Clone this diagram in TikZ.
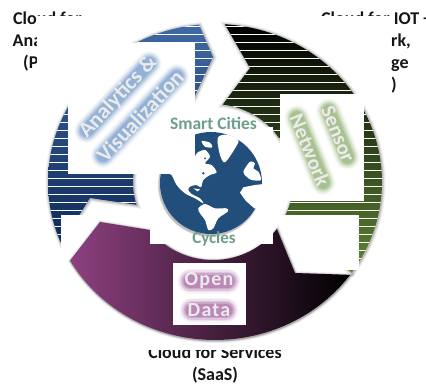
\documentclass[tikz,border=0pt]{standalone}
\usepackage{fontspec}
\setmainfont{Carlito}
\newfontfamily\opfont[LetterSpace=6]{Carlito}
\definecolor{lblack}{HTML}{151515}
\definecolor{cityteal}{HTML}{6E9E8A}
\definecolor{globeblue}{HTML}{224E7B}
\definecolor{glowblue}{HTML}{4F81BD}
\definecolor{glowgreen}{HTML}{6F9A48}
\definecolor{glowpurple}{HTML}{8E3A88}
\definecolor{bluetop}{HTML}{3F69A5}
\definecolor{bluebot}{HTML}{0E2A58}
\definecolor{greenbot}{HTML}{5F8535}
\definecolor{purpleleft}{HTML}{8E4080}
\newcommand{\bluepath}{plot[domain=95.5:203,samples=70] ({215+167*cos(\x)},{182-158*sin(\x)}) -- (90,198) -- plot[domain=197:107,samples=50] ({213+80*cos(\x)},{182-78*sin(\x)}) -- (213,57) -- cycle}
\newcommand{\greenpath}{plot[domain=86.6:-35,samples=70] ({215+167*cos(\x)},{182-158*sin(\x)}) -- plot[domain=-28:83,samples=50] ({213+80*cos(\x)},{182-78*sin(\x)}) -- (250,68) -- cycle}
\newcommand{\purplepath}{plot[domain=-150.2:-36,samples=70] ({215+167*cos(\x)},{182-158*sin(\x)}) -- (295,273) -- plot[domain=-37:-142,samples=50] ({213+80*cos(\x)},{182-78*sin(\x)}) -- (100,222) -- cycle}
\tikzset{
  x=1pt,y=-1pt,
  outer label/.style={font=\fontsize{18}{22}\selectfont\bfseries,text=lblack,inner sep=0pt,anchor=base west},
  centre label/.style={font=\fontsize{17.5}{21}\selectfont\bfseries,text=cityteal,inner sep=0pt,anchor=base},
  glow text/.style={font=\fontsize{22}{26}\selectfont\bfseries,text=white!92!black,inner sep=0pt},
  cover/.style={fill=white,draw=none},
  land/.style={fill=white,draw=none},
}
\begin{document}
\begin{tikzpicture}
\useasboundingbox (0,0) rectangle (426,384);
\fill[white] (0,0) rectangle (426,384);
% outer labels
\node[outer label] (l1) at (13,24) {Cloud for};
\node[outer label] (l2) at (12.5,46) {Ana};
\node[outer label] (l3) at (23,68) {(P};
\node[outer label] (r1) at (321,24) {Cloud for IOT +};
\node[outer label] (r2) at (391,46) {rk,};
\node[outer label] (r3) at (391,68) {ge};
\node[outer label] (r4) at (391,90) {)};
\node[outer label,anchor=base] (b1) at (215,358) {Cloud for Services};
\node[outer label,anchor=base] (b2) at (215,380) {(SaaS)};
\fill[cover] (37,16) rectangle (391,100);
\fill[cover] (130,330) rectangle (300,350);
% shadows
\foreach \w/\o in {6/.06,4/.08,2/.14}{
  \draw[black,line width=\w pt,opacity=\o,shift={(.5,.5)}] \bluepath;
  \draw[black,line width=\w pt,opacity=\o,shift={(.5,.5)}] \greenpath;
}
% arrows with stripes
\shade[top color=bluetop,bottom color=bluebot] \bluepath;
\shade[top color=black,bottom color=greenbot] \greenpath;
\begin{scope}
  \clip \bluepath;
  \foreach \y in {26,34,...,250} \draw[white,line width=.9pt] (30,\y) -- (240,\y);
\end{scope}
\begin{scope}
  \clip \greenpath;
  \foreach \y in {26,34,...,266} \draw[white,line width=.9pt] (210,\y) -- (400,\y);
\end{scope}
% white picture boxes
\fill[cover] (280,94) rectangle (364,201);
\fill[cover] (61,215) rectangle (359,270);
% purple arrow
\foreach \w/\o in {5/.06,3/.1,1.5/.2}{
  \draw[black,line width=\w pt,opacity=\o,shift={(.5,.7)}] \purplepath;
}
\shade[left color=purpleleft,right color=black] \purplepath;
% globe box
\fill[cover] (150,127) rectangle (273,244);
% globe
\fill[gray,opacity=.25] (210,185) circle (52);
\fill[gray,opacity=.35] (210,184.5) circle (51.5);
\fill[globeblue] (211,183) circle (51);
\begin{scope}[shift={(155,130)},x=.3333pt,y=-.3333pt]
  \fill[land] plot[smooth cycle,tension=.5] coordinates {(40,130) (50,135) (65,165) (90,190) (120,205) (145,220) (135,205) (110,192) (100,180) (105,170) (125,165) (138,172) (145,150) (165,135) (185,127) (170,105) (150,100) (165,80) (150,60) (125,70) (110,100) (60,115)};
  \fill[land] plot[smooth cycle,tension=.5] coordinates {(188,24) (215,14) (250,30) (240,55) (210,97) (195,75)};
  \fill[land] plot[smooth cycle,tension=.5] coordinates {(140,33) (165,38) (172,52) (150,50)};
  \fill[land] plot[smooth cycle,tension=.5] coordinates {(130,235) (150,222) (180,235) (215,235) (218,245) (190,265) (175,295) (160,300) (150,270) (135,250)};
  \fill[land] (345,160) -- (300,165) -- (265,172) -- (255,188) -- (272,212) -- (298,235) -- (345,240) -- cycle;
  \fill[land] plot[smooth cycle,tension=.5] coordinates {(265,125) (285,95) (300,100) (295,115) (310,125) (318,150) (290,150) (275,140)};
  \fill[globeblue] (145,130) circle (4);
  \fill[globeblue] (135,60) circle (4);
  \fill[globeblue] (150,85) circle (3);
  \fill[land] (115,175) -- (135,178) -- (128,184) -- cycle;
\end{scope}
\fill[cover] (68,43) rectangle (195,174);
% glows
\foreach \w/\o in {25/.05,22/.1,19/.16,16/.22,13/.28}{
  \begin{scope}[shift={(118,97)},rotate=47]
    \draw[glowblue,line width=\w pt,line cap=round,opacity=\o] (-46,0) -- (46,0);
  \end{scope}
  \begin{scope}[shift={(140,116)},rotate=47]
    \draw[glowblue,line width=\w pt,line cap=round,opacity=\o] (-54,0) -- (54,0);
  \end{scope}
  \begin{scope}[shift={(338,134)},rotate=-68]
    \draw[glowgreen,line width=\w pt,line cap=round,opacity=\o] (-25,0) -- (25,0);
  \end{scope}
  \begin{scope}[shift={(310,150)},rotate=-68]
    \draw[glowgreen,line width=\w pt,line cap=round,opacity=\o] (-35,0) -- (35,0);
  \end{scope}
}
\fill[cover] (173,263) rectangle (246,325);
\foreach \w/\o in {25/.06,22/.1,19/.16,16/.22,13/.28}{
  \draw[glowpurple,line width=\w pt,line cap=round,opacity=\o] (190,281) -- (228,281);
  \draw[glowpurple,line width=\w pt,line cap=round,opacity=\o] (192,310) -- (226,310);
}
% texts
\node[glow text,rotate=47] (a1) at (118,97) {Analytics \&};
\node[glow text,rotate=47] (a2) at (140,116) {Visualization};
\node[glow text,font=\fontsize{21}{25}\selectfont\bfseries,rotate=-68] (s1) at (338,134) {Sensor};
\node[glow text,font=\fontsize{21}{25}\selectfont\bfseries,rotate=-68] (s2) at (310,150) {Network};
\node[glow text,font=\fontsize{20}{24}\opfont\bfseries] (o1) at (209,281) {Open};
\node[glow text,font=\fontsize{20}{24}\opfont\bfseries] (o2) at (209,310) {Data};
\node[centre label] (c1) at (213.5,129) {Smart Cities};
\node[centre label,font=\fontsize{17}{21}\selectfont\bfseries] (c2) at (214,243) {Cycles};
\end{tikzpicture}
\end{document}
